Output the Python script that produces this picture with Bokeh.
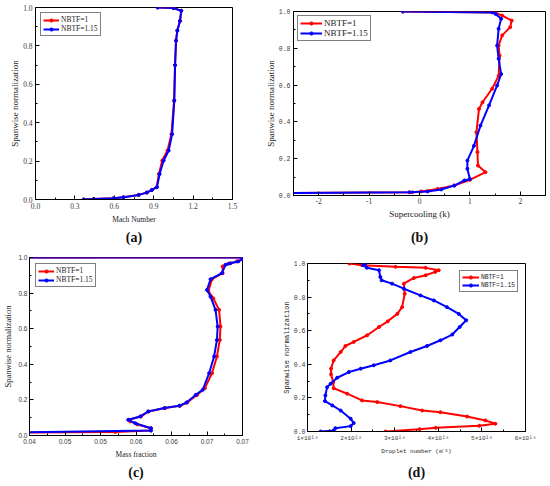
from bokeh.plotting import figure
from bokeh.models import Range1d, FixedTicker, LinearAxis
from bokeh.layouts import column, row
from bokeh.embed import file_html
from bokeh.resources import INLINE

RED = "#ff0000"
BLUE = "#0000ff"
LABELS = ["NBTF=1", "NBTF=1.15"]

# ---------------- (a) Mach number ----------------
a_y = [1.0, 0.997, 0.983, 0.93, 0.88, 0.827, 0.70, 0.515, 0.34, 0.255, 0.203, 0.133,
       0.064, 0.05, 0.036, 0.024, 0.012, 0.007, 0.002, 0.0]
a_x_nb1 = [0.93, 1.05, 1.11, 1.10, 1.08, 1.07, 1.062, 1.055, 1.035, 1.005, 0.965, 0.94,
           0.922, 0.885, 0.846, 0.785, 0.67, 0.595, 0.443, 0.367]
a_x_nb115 = [0.93, 1.05, 1.11, 1.10, 1.08, 1.07, 1.063, 1.057, 1.04, 1.014, 0.976, 0.945,
             0.925, 0.887, 0.848, 0.786, 0.67, 0.595, 0.443, 0.367]
a_xticks = [0.0, 0.3, 0.6, 0.9, 1.2, 1.5]
a_xlabels = ["0.0", "0.3", "0.6", "0.9", "1.2", "1.5"]

# ---------------- (b) Supercooling ----------------
b_y_nb1 = [1.0, 0.995, 0.978, 0.951, 0.915, 0.87, 0.815, 0.76, 0.65, 0.58, 0.507, 0.47,
           0.344, 0.236, 0.163, 0.127, 0.085, 0.054, 0.036, 0.022, 0.018, 0.012]
b_x_nb1 = [-0.33, 1.5, 1.64, 1.83, 1.80, 1.64, 1.57, 1.59, 1.57, 1.44, 1.25, 1.18,
           1.13, 1.15, 1.16, 1.31, 1.00, 0.69, 0.36, 0.03, -0.14, -3.0]
b_y_nb115 = [1.0, 0.995, 0.987, 0.96, 0.906, 0.815, 0.743, 0.66, 0.598, 0.49, 0.38, 0.27,
             0.19, 0.145, 0.09, 0.082, 0.054, 0.033, 0.022, 0.018, 0.012]
b_x_nb115 = [-0.33, 1.45, 1.51, 1.62, 1.57, 1.54, 1.57, 1.62, 1.54, 1.38, 1.21, 1.08,
             0.95, 0.95, 1.0, 0.89, 0.69, 0.43, 0.16, -0.2, -3.0]
b_xticks = [-2, -1, 0, 1, 2]
b_xlabels = ["-2", "-1", "0", "1", "2"]

# ---------------- (c) Mass fraction ----------------
c_y_nb1 = [1.0, 1.0, 0.99, 0.978, 0.965, 0.95, 0.912, 0.878, 0.81, 0.77, 0.706, 0.612,
           0.537, 0.444, 0.35, 0.266, 0.228, 0.185, 0.167, 0.154, 0.135, 0.107, 0.088,
           0.079, 0.062, 0.041, 0.028, 0.02, 0.016]
c_x_nb1 = [0.035, 0.0702, 0.0700, 0.0692, 0.0680, 0.0672, 0.0672, 0.0657, 0.0652, 0.0659,
           0.0667, 0.0669, 0.0668, 0.0664, 0.0657, 0.0647, 0.0636, 0.0622, 0.0612, 0.0591,
           0.0568, 0.0557, 0.0540, 0.0542, 0.0552, 0.0571, 0.0571, 0.0521, 0.035]
c_y_nb115 = [1.0, 1.0, 0.99, 0.978, 0.968, 0.959, 0.912, 0.878, 0.818, 0.78, 0.706, 0.612,
             0.537, 0.444, 0.35, 0.257, 0.228, 0.185, 0.167, 0.154, 0.135, 0.107, 0.088,
             0.069, 0.041, 0.028, 0.016]
c_x_nb115 = [0.035, 0.0702, 0.0700, 0.0694, 0.0683, 0.0676, 0.0671, 0.0655, 0.0650, 0.0655,
             0.0662, 0.0665, 0.0664, 0.0660, 0.0653, 0.0644, 0.0634, 0.0621, 0.0611, 0.0590,
             0.0567, 0.0556, 0.0539, 0.0549, 0.0571, 0.0571, 0.035]
c_xticks = [0.04, 0.045, 0.05, 0.055, 0.06, 0.065, 0.07]
c_xlabels = ["0.04", "0.05", "0.05", "0.06", "0.06", "0.07", "0.07"]

# ---------------- (d) Droplet number (x in units of 1e18) ----------------
d_y_nb1 = [1.0, 0.99, 0.98, 0.974, 0.96, 0.95, 0.93, 0.914, 0.88, 0.82, 0.74, 0.70, 0.656,
           0.622, 0.573, 0.533, 0.509, 0.473, 0.423, 0.374, 0.34, 0.294, 0.258, 0.225,
           0.185, 0.175, 0.151, 0.125, 0.115, 0.089, 0.066, 0.046, 0.034, 0.022, 0.014, 0.0]
d_x_nb1 = [1.96, 2.25, 3.02, 3.71, 4.01, 3.93, 3.71, 3.44, 3.21, 3.23, 3.17, 3.06, 2.84,
           2.64, 2.37, 2.06, 1.87, 1.76, 1.60, 1.54, 1.54, 1.59, 1.60, 1.91,
           2.25, 2.60, 3.13, 3.63, 4.05, 4.66, 5.08, 5.31, 4.94, 3.94, 3.57, 2.79]
d_y_nb115 = [1.0, 0.99, 0.975, 0.96, 0.92, 0.90, 0.88, 0.85, 0.81, 0.78, 0.74, 0.70, 0.662,
             0.622, 0.577, 0.543, 0.509, 0.473, 0.423, 0.394, 0.374, 0.354, 0.32, 0.284,
             0.264, 0.215, 0.181, 0.155, 0.125, 0.076, 0.05, 0.032, 0.02, 0.006, 0.0]
d_x_nb115 = [2.33, 2.28, 2.36, 2.64, 2.67, 2.70, 2.94, 3.21, 3.59, 3.90, 4.20, 4.47, 4.64,
             4.49, 4.32, 4.05, 3.74, 3.36, 2.90, 2.52, 2.22, 1.95, 1.68, 1.53,
             1.45, 1.41, 1.40, 1.57, 1.76, 1.99, 2.06, 1.99, 1.64, 1.60, 1.30]
d_xticks = [1, 2, 3, 4, 5, 6]
d_xlabels = ["1×10¹⁸", "2×10¹⁸", "3×10¹⁸", "4×10¹⁸", "5×10¹⁸", "6×10¹⁸"]

y_ticks = [0.0, 0.2, 0.4, 0.6, 0.8, 1.0]
y_labels = ["0.0", "0.2", "0.4", "0.6", "0.8", "1.0"]

SERIF = "Liberation Serif"
SANS = "Liberation Sans"
MONO = "Liberation Mono"


def minors(ticks):
    return [(ticks[i] + ticks[i + 1]) / 2 for i in range(len(ticks) - 1)]


def panel(w, h, borders, xr, xticks, xlabels, xlabel, ylabel, caption, cap_standoff, series,
          fonts, leg, standoffs):
    l, r, t, b = borders
    (xt_font, xt_size, yt_font, yt_size, xl_font, xl_size, yl_font, yl_size) = fonts
    (lg_font, lg_size, lg_loc, lg_margin, lg_glyph) = leg
    (xt_so, xl_so, yt_so, yl_so) = standoffs
    p = figure(width=w, height=h, output_backend="svg", toolbar_location=None,
               x_range=Range1d(*xr), y_range=Range1d(0, 1),
               min_border_left=l, min_border_right=r, min_border_top=t, min_border_bottom=b)
    if p.title is not None:
        p.title.text = ""
        p.title.standoff = 0
        p.title.offset = 0
        p.title.text_font_size = "0px"
        p.title.visible = False
    p.grid.visible = False
    p.outline_line_color = "black"
    p.outline_line_width = 1
    p.background_fill_color = "white"
    p.border_fill_color = "white"
    p.xaxis.ticker = FixedTicker(ticks=xticks, minor_ticks=minors(xticks))
    p.yaxis.ticker = FixedTicker(ticks=y_ticks, minor_ticks=minors(y_ticks))
    p.xaxis.major_label_overrides = {k: v for k, v in zip(xticks, xlabels)}
    p.yaxis.major_label_overrides = {k: v for k, v in zip(y_ticks, y_labels)}
    for ax in (p.xaxis, p.yaxis):
        ax.axis_line_color = "black"
        ax.major_tick_line_color = "black"
        ax.minor_tick_line_color = "black"
        ax.major_tick_in = 4
        ax.major_tick_out = 0
        ax.minor_tick_in = 2
        ax.minor_tick_out = 0
        ax.major_label_text_color = "#3a3a3a"
        ax.axis_label_text_color = "#222222"
        ax.axis_label_text_font_style = "normal"
    p.xaxis.major_label_text_font = xt_font
    p.xaxis.major_label_text_font_size = xt_size
    p.yaxis.major_label_text_font = yt_font
    p.yaxis.major_label_text_font_size = yt_size
    p.xaxis.axis_label_text_font = xl_font
    p.xaxis.axis_label_text_font_size = xl_size
    p.yaxis.axis_label_text_font = yl_font
    p.yaxis.axis_label_text_font_size = yl_size
    p.xaxis.major_label_standoff = xt_so
    p.xaxis.axis_label_standoff = xl_so
    p.yaxis.major_label_standoff = yt_so
    p.yaxis.axis_label_standoff = yl_so
    p.xaxis.axis_label = xlabel
    p.yaxis.axis_label = ylabel

    for (xs, ys, color, lab) in series:
        p.line(xs, ys, line_color=color, line_width=2, legend_label=lab)
        p.scatter(xs, ys, size=3, color=color, legend_label=lab)

    lg = p.legend[0]
    lg.location = lg_loc
    lg.margin = lg_margin
    lg.border_line_color = "black"
    lg.border_line_width = 1
    lg.background_fill_alpha = 1
    lg.label_text_font = lg_font
    lg.label_text_font_size = lg_size
    lg.label_text_color = "#222222"
    lg.padding = 2
    lg.spacing = 0
    lg.label_height = 8
    lg.glyph_height = 8
    lg.glyph_width = lg_glyph
    lg.label_standoff = 2

    # panel caption, e.g. "(a)", drawn as the label of a bare axis below the x axis
    cap = LinearAxis(ticker=FixedTicker(ticks=[]), axis_label=caption,
                     axis_line_color=None, major_tick_line_color=None,
                     minor_tick_line_color=None, major_tick_in=0, major_tick_out=0,
                     minor_tick_in=0, minor_tick_out=0, major_label_standoff=0,
                     major_label_text_font_size="0px",
                     axis_label_standoff=cap_standoff, axis_label_text_font=SERIF,
                     axis_label_text_font_size="14px", axis_label_text_font_style="bold",
                     axis_label_text_color="#111111")
    p.add_layout(cap, "below")
    return p


# (a): frame 35..232 x 7..199
pa = panel(262, 250, (35, 30, 7, 51), (0, 1.5), a_xticks, a_xlabels,
           "Mach Number", "Spanwise normalization", "(a)", 3,
           [(a_x_nb1, a_y, RED, LABELS[0]), (a_x_nb115, a_y, BLUE, LABELS[1])],
           (SERIF, "7.5px", SERIF, "7.5px", SERIF, "7.5px", SERIF, "9px"),
           (SERIF, "7.5px", "top_left", 5, 16),
           (3, 3, 3, 0))

# (b): frame 290..545 x 11..195
pb = panel(288, 250, (28, 5, 11, 55), (-2.5, 2.5), b_xticks, b_xlabels,
           "Supercooling (k)", "Spanwise normalization", "(b)", 8,
           [(b_x_nb1, b_y_nb1, RED, LABELS[0]), (b_x_nb115, b_y_nb115, BLUE, LABELS[1])],
           (SERIF, "7.5px", MONO, "6.5px", SERIF, "9px", SERIF, "9px"),
           (SERIF, "9px", "top_left", 4, 22),
           (2, 2, 3, 0))

# (c): frame 25..242 x 257..435
pc = panel(262, 236, (25, 20, 7, 51), (0.04, 0.07), c_xticks, c_xlabels,
           "Mass fraction", "Spanwise normalization", "(c)", 3,
           [(c_x_nb1, c_y_nb1, RED, LABELS[0]), (c_x_nb115, c_y_nb115, BLUE, LABELS[1])],
           (SANS, "6.5px", SANS, "6.5px", SERIF, "7.5px", SERIF, "8.5px"),
           (SERIF, "7.5px", "top_left", 6, 16),
           (3, 3, 2, 2))

# (d): frame 307..525 x 263..431
pd_ = panel(288, 236, (45, 25, 13, 55), (1, 6), d_xticks, d_xlabels,
            "Droplet number (m⁻³)", "Spanwise normalization", "(d)", 7,
            [(d_x_nb1, d_y_nb1, RED, LABELS[0]), (d_x_nb115, d_y_nb115, BLUE, LABELS[1])],
            (MONO, "6px", MONO, "6.5px", MONO, "6px", MONO, "7px"),
            (MONO, "6.3px", "top_right", 7, 17),
            (3, 3, 2, 0))

# each figure in its own column so that frames are not aligned across a row
layout = column(row(column(pa), column(pb)), row(column(pc), column(pd_)))

with open("out.html", "w") as f:
    f.write(file_html(layout, INLINE))
